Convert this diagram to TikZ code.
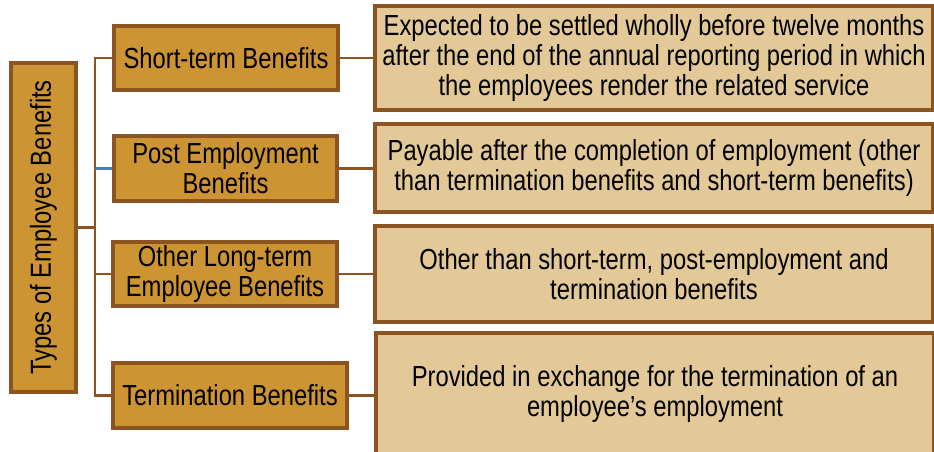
\documentclass[tikz,border=0pt]{standalone}
\usepackage{fontspec}
\setmainfont{Liberation Sans}[FakeStretch=0.82]
\usepackage{tikz}
\usetikzlibrary{positioning,calc}
\definecolor{boxedge}{HTML}{8C5421}
\definecolor{typefill}{HTML}{CC9433}
\definecolor{descfill}{HTML}{E2C997}
\definecolor{linkblue}{HTML}{4A7EBB}
\tikzset{
    every picture/.style={line width=0.5pt},
    typebox/.style={rectangle,draw=boxedge,fill=typefill,line width=3.5pt,inner sep=2pt,align=center},
    descbox/.style={rectangle,draw=boxedge,fill=descfill,line width=3.5pt,inner sep=2pt,align=center,minimum width=558pt},
    link/.style={draw=boxedge,line width=2.2pt}
}

\begin{document}
\begin{tikzpicture}[x=1pt,y=-1pt,
        every node/.style={font=\fontsize{29pt}{30pt}\selectfont}]
        \useasboundingbox (0,0) rectangle (934,452);

        % Root
        \node[typebox,rotate=90,minimum width=329pt,minimum height=65pt] (root) at (43.5,227.5) {Types of Employee Benefits};

        % Kinds of benefit
        \node[typebox,minimum width=224pt,minimum height=64pt] (st) at (226,58) {Short-term Benefits};
        \node[typebox,minimum width=223pt,minimum height=65pt] (pe) at (225.5,168.5) {Post Employment\\Benefits};
        \node[typebox,minimum width=224pt,minimum height=64pt] (olt) at (225,274) {Other Long-term\\Employee Benefits};
        \node[typebox,minimum width=234pt,minimum height=65pt] (tb) at (230,395.5) {Termination Benefits};

        % Descriptions
        \node[descbox,minimum height=104pt] (stD) at (654,58) {Expected to be settled wholly before twelve months\\after the end of the annual reporting period in which\\the employees render the related service};
        \node[descbox,minimum height=88pt] (peD) at (654,168) {Payable after the completion of employment (other\\than termination benefits and short-term benefits)};
        \node[descbox,minimum height=96pt] (oltD) at (654,274) {Other than short-term, post-employment and\\termination benefits};
        \node[descbox,minimum height=122pt] (tbD) at (655,394) {Provided in exchange for the termination of an\\employee’s employment};

        % Tree lines
        \coordinate (trunk) at (95,0);
        \draw[link] (root.south) -- (root.south -| trunk);
        \draw[link] (st.west) -- (st.west -| trunk) -- (tb.west -| trunk) -- (tb.west);
        \draw[draw=linkblue,line width=2.2pt] (pe.west -| trunk) -- (pe.west);
        \draw[link] (olt.west -| trunk) -- (olt.west);

        % Branch to description
        \draw[link] (st.east) -- (st.east -| stD.west);
        \draw[link] (pe.east) -- (pe.east -| peD.west);
        \draw[link] (olt.east) -- (olt.east -| oltD.west);
        \draw[link] (tb.east) -- (tb.east -| tbD.west);
    \end{tikzpicture}
\end{document}
